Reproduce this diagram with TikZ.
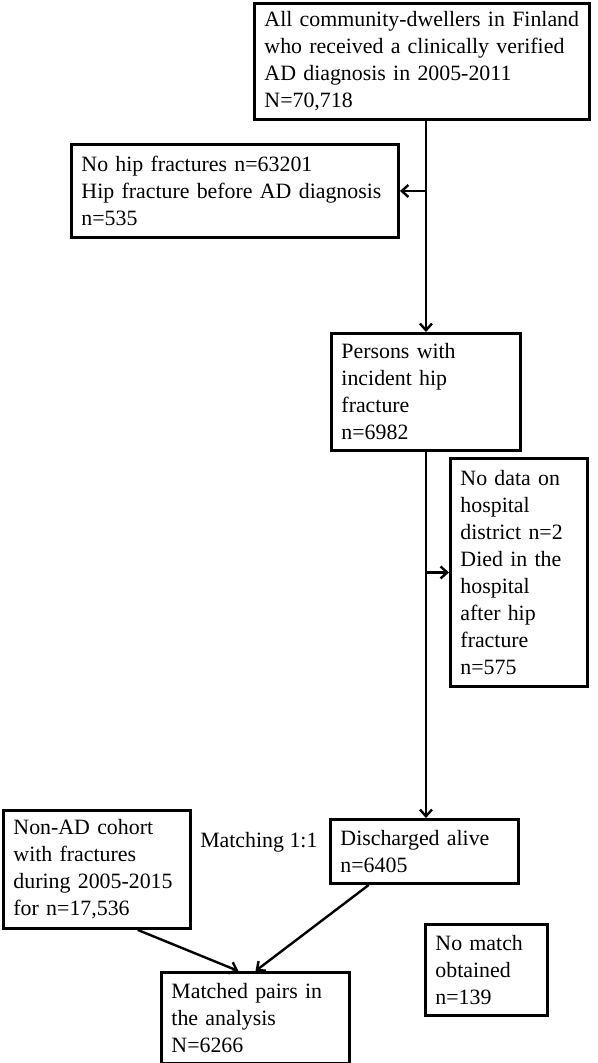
\documentclass[tikz,border=0pt]{standalone}
\usepackage{fontspec}
\setmainfont{Liberation Serif}
\usetikzlibrary{positioning, arrows.meta}

\tikzset{
  box/.style={draw, line width=2.2pt, anchor=north west, align=left,
    inner xsep=7.5pt, inner ysep=0pt, font=\fontsize{16.4}{20.25}\selectfont},
  conn/.style={line width=1.8pt, -{Straight Barb[length=5pt,width=9pt]}},
}

\begin{document}
\begin{tikzpicture}[x=0.75pt,y=0.75pt,yscale=-1,xscale=1]
    \useasboundingbox (0,0) rectangle (598,1063);

    % Boxes
    \node[box, text width=236.25pt, minimum height=87pt] (all) at (253,2)
      {All community-dwellers in Finland\\ who received a clinically verified\\ AD diagnosis in 2005-2011\\ N=70,718};
    \node[box, text width=230.25pt, minimum height=69.75pt] (nohip) at (70,143)
      {No hip fractures n=63201\\ Hip fracture before AD diagnosis\\ n=535};
    \node[box, text width=126.75pt, minimum height=87.75pt] (persons) at (330,332)
      {Persons with\\ incident hip\\ fracture\\ n=6982};
    \node[box, text width=87.75pt, minimum height=171pt] (nodata) at (449,457)
      {No data on\\ hospital\\ district n=2\\ Died in the\\ hospital\\ after hip\\ fracture\\ n=575};
    \node[box, text width=126pt, minimum height=48pt] (alive) at (329,818)
      {Discharged alive\\ n=6405};
    \node[box, text width=125.25pt, minimum height=88.5pt] (nonad) at (2,809)
      {Non-AD cohort\\ with fractures\\ during 2005-2015\\ for n=17,536};
    \node[box, text width=126pt, minimum height=68.25pt] (matched) at (160,971)
      {Matched pairs in\\ the analysis\\ N=6266};
    \node[box, text width=76.5pt, minimum height=68.25pt] (nomatch) at (424,923)
      {No match\\ obtained\\ n=139};

    % Label
    \node[anchor=west, inner sep=0pt, font=\fontsize{16.4}{20.25}\selectfont] (matching) at (200,842) {Matching 1:1};

    % Connectors
    \draw[conn] (all.south -| persons.north) -- (persons.north);
    \draw[conn] (persons.north |- nohip.east) -- (nohip.east);
    \draw[conn] (persons.south) -- (persons.south |- alive.north);
    \draw[conn] (persons.south |- nodata.west) -- (nodata.west);
    \draw[conn] (nonad.-56) -- (matched.110);
    \draw[conn] (alive.211) -- (matched.north);

\end{tikzpicture}
\end{document}
